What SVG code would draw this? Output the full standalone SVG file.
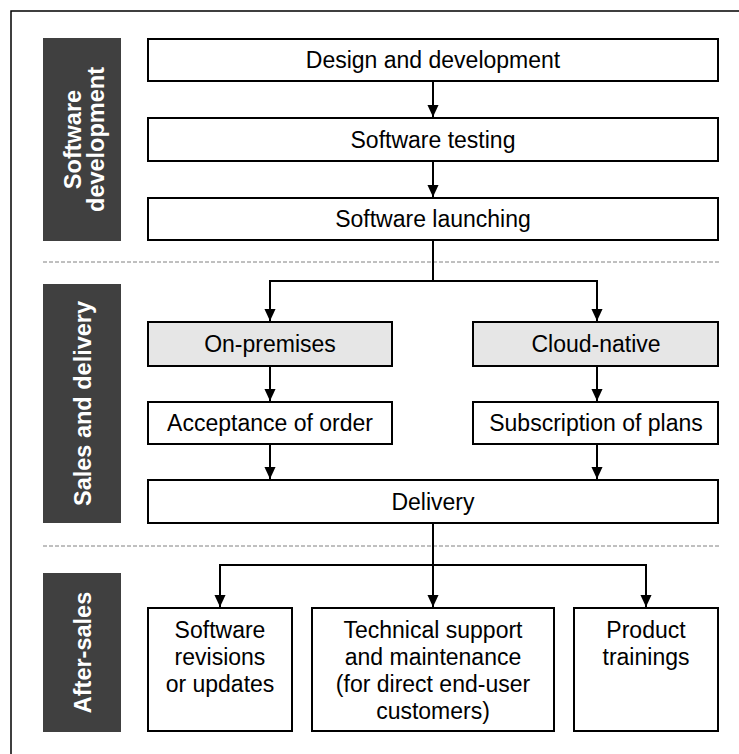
<svg xmlns="http://www.w3.org/2000/svg" width="739" height="754" viewBox="0 0 739 754">
  <defs>
    <marker id="arr" markerUnits="userSpaceOnUse" markerWidth="12" markerHeight="13" refX="13" refY="6" orient="auto" viewBox="0 0 13 12">
      <path d="M0,0 L13,6 L0,12 z" fill="#000"/>
    </marker>
    <style>
      .box { fill: #fff; stroke: #000; stroke-width: 2; }
      .grey { fill: #e6e6e6; stroke: #000; stroke-width: 2; }
      .lab { fill: #404040; }
      .t { font-family: "Liberation Sans", Arial, sans-serif; font-size: 23px; fill: #000; text-anchor: middle; }
      .lt { font-family: "Liberation Sans", Arial, sans-serif; font-size: 23.5px; font-weight: bold; fill: #fff; text-anchor: middle; }
      .c { fill: none; stroke: #000; stroke-width: 2; marker-end: url(#arr); }
      .dash { fill: none; stroke: #808080; stroke-width: 1; stroke-dasharray: 4 2; }
    </style>
  </defs>
  <rect x="11" y="11" width="740" height="760" fill="#fff" stroke="#000" stroke-width="1.5"/>

  <g id="sep">
    <line class="dash" x1="43" y1="262" x2="719" y2="262"/>
    <line class="dash" x1="43" y1="546" x2="719" y2="546"/>
  </g>

  <g id="label-software-development">
    <rect class="lab" x="43" y="38" width="78" height="203"/>
    <text class="lt" transform="translate(82,139.5) rotate(-90)"><tspan x="0" y="-1">Software</tspan><tspan x="0" y="21.5">development</tspan></text>
  </g>
  <g id="label-sales">
    <rect class="lab" x="43" y="284" width="78" height="239"/>
    <text class="lt" transform="translate(82,403.5) rotate(-90)" x="0" y="9">Sales and delivery</text>
  </g>
  <g id="label-after">
    <rect class="lab" x="43" y="573" width="78" height="159"/>
    <text class="lt" transform="translate(82,652.5) rotate(-90)" x="0" y="9">After-sales</text>
  </g>

  <g id="connectors">
    <path class="c" d="M433,82 V117"/>
    <path class="c" d="M433,162 V197"/>
    <path class="c" d="M433,241 V281 H270 V321"/>
    <path class="c" d="M433,281 H597 V321"/>
    <path class="c" d="M270,367 V401"/>
    <path class="c" d="M597,367 V401"/>
    <path class="c" d="M270,444 V479"/>
    <path class="c" d="M597,444 V479"/>
    <path class="c" d="M433,524 V607"/>
    <path class="c" d="M433,565 H220 V607"/>
    <path class="c" d="M433,565 H646 V607"/>
  </g>

  <g id="design">
    <rect class="box" x="148" y="39" width="570" height="42"/>
    <text class="t" x="433" y="68">Design and development</text>
  </g>
  <g id="testing">
    <rect class="box" x="148" y="118" width="570" height="43"/>
    <text class="t" x="433" y="148">Software testing</text>
  </g>
  <g id="launching">
    <rect class="box" x="148" y="198" width="570" height="42"/>
    <text class="t" x="433" y="227">Software launching</text>
  </g>
  <g id="on-premises">
    <rect class="grey" x="148" y="322" width="244" height="44"/>
    <text class="t" x="270" y="352">On-premises</text>
  </g>
  <g id="cloud-native">
    <rect class="grey" x="473" y="322" width="245" height="44"/>
    <text class="t" x="596" y="352">Cloud-native</text>
  </g>
  <g id="acceptance">
    <rect class="box" x="148" y="402" width="244" height="42"/>
    <text class="t" x="270" y="431">Acceptance of order</text>
  </g>
  <g id="subscription">
    <rect class="box" x="473" y="402" width="245" height="42"/>
    <text class="t" x="596" y="431">Subscription of plans</text>
  </g>
  <g id="delivery">
    <rect class="box" x="148" y="480" width="570" height="43"/>
    <text class="t" x="433" y="510">Delivery</text>
  </g>
  <g id="revisions">
    <rect class="box" x="148" y="608" width="144" height="123"/>
    <text class="t"><tspan x="220" y="638">Software</tspan><tspan x="220" y="665">revisions</tspan><tspan x="220" y="692">or updates</tspan></text>
  </g>
  <g id="support">
    <rect class="box" x="312" y="608" width="242" height="123"/>
    <text class="t"><tspan x="433" y="638">Technical support</tspan><tspan x="433" y="665">and maintenance</tspan><tspan x="433" y="692">(for direct end-user</tspan><tspan x="433" y="719">customers)</tspan></text>
  </g>
  <g id="trainings">
    <rect class="box" x="574" y="608" width="144" height="123"/>
    <text class="t"><tspan x="646" y="638">Product</tspan><tspan x="646" y="665">trainings</tspan></text>
  </g>
</svg>
